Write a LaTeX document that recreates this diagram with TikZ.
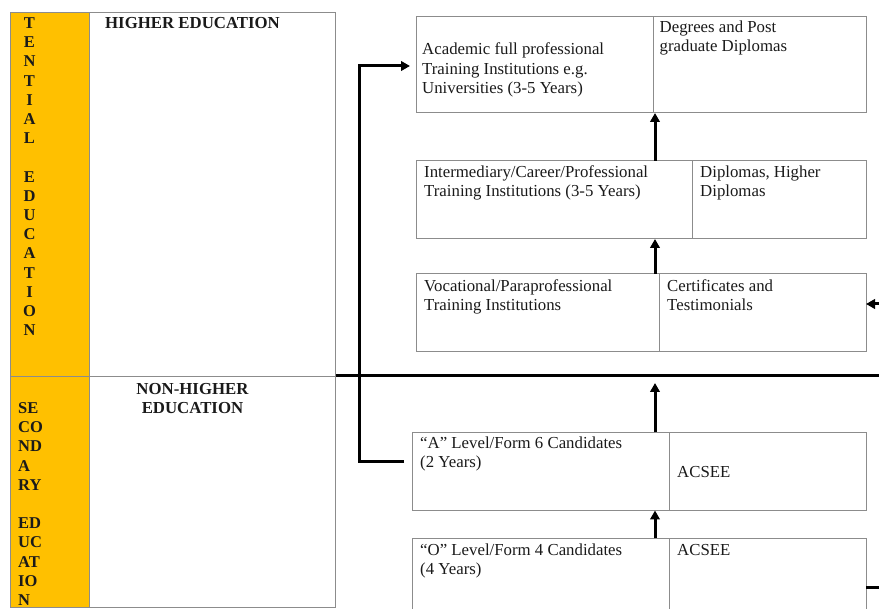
\documentclass[tikz,border=0pt]{standalone}
\usepackage{fontspec}
\setmainfont{Liberation Serif}
\usetikzlibrary{arrows.meta}
\definecolor{amber}{HTML}{FFC000}
\definecolor{rulegray}{HTML}{8C8C8C}
\definecolor{ink}{HTML}{1A1A1A}
\begin{document}
\begin{tikzpicture}[x=1pt,y=-1pt,
  cell/.style={draw=rulegray, line width=1pt, anchor=north west, inner sep=0pt, outer sep=0pt},
  txt/.style={anchor=north west, inner sep=0pt, align=left, text=ink, font=\fontsize{16.8}{19.2}\selectfont},
  arr/.style={line width=3pt, -{Triangle[length=9pt,width=9.5pt]}},
  bar/.style={line width=3pt},
  hd/.style={font=\fontsize{16.8}{19.3}\selectfont\bfseries, inner sep=0pt, align=center, anchor=north, text=ink},
  vlab/.style={font=\fontsize{16.5}{19.2}\selectfont\bfseries, inner sep=0pt, text=ink}]
\useasboundingbox (0,0) rectangle (879,609);

% left table
\node[cell, fill=amber, minimum width=79pt, minimum height=364pt] (ot) at (10,13) {};
\node[cell, minimum width=246pt, minimum height=364pt] (wt) at (89,13) {};
\node[cell, fill=amber, minimum width=79pt, minimum height=230pt] (ob) at (10,377) {};
\node[cell, minimum width=246pt, minimum height=230pt] (wb) at (89,377) {};

\node[vlab, anchor=north, align=center] (vt) at (29.5,17.4) {T\\E\\N\\T\\I\\A\\L\\[19.2pt]E\\D\\U\\C\\A\\T\\I\\O\\N};
\node[vlab, anchor=north west, align=left] (vb) at (18,402.4) {SE\\CO\\ND\\A\\RY\\[19.2pt]ED\\UC\\AT\\IO\\N};

\node[hd] (h1) at (192.5,17.2) {HIGHER EDUCATION};
\node[hd] (h2) at (192.5,382.9) {NON-HIGHER\\EDUCATION};

% right boxes
\node[cell, minimum width=237pt, minimum height=96pt] (b1l) at (416,17) {};
\node[cell, minimum width=213pt, minimum height=96pt] (b1r) at (653,17) {};
\node[cell, minimum width=276pt, minimum height=78pt] (b2l) at (416,161) {};
\node[cell, minimum width=174pt, minimum height=78pt] (b2r) at (692,161) {};
\node[cell, minimum width=243pt, minimum height=78pt] (b3l) at (416,274) {};
\node[cell, minimum width=207pt, minimum height=78pt] (b3r) at (659,274) {};
\node[cell, minimum width=257pt, minimum height=78pt] (bAl) at (412,432.5) {};
\node[cell, minimum width=197pt, minimum height=78pt] (bAr) at (669,432.5) {};
\node[cell, draw=none, minimum width=257pt, minimum height=70.5pt] (bOl) at (412,538.5) {};
\node[cell, draw=none, minimum width=197pt, minimum height=70.5pt] (bOr) at (669,538.5) {};
\draw[draw=rulegray, line width=1pt] (bOl.south west) |- (bOr.north east) -- (bOr.south east);
\draw[draw=rulegray, line width=1pt] (bOr.north west) -- (bOr.south west);

% texts
\node[txt] (t1l) at (422,42.8) {Academic full professional\\Training Institutions e.g.\\Universities (3-5 Years)};
\node[txt] (t1r) at (659.5,20.8) {Degrees and Post\\graduate Diplomas};
\node[txt] (t2l) at (424,165.2) {Intermediary/Career/Professional\\Training Institutions (3-5 Years)};
\node[txt] (t2r) at (700,165.2) {Diplomas, Higher\\Diplomas};
\node[txt] (t3l) at (424,279) {Vocational/Paraprofessional\\Training Institutions};
\node[txt] (t3r) at (667,279) {Certificates and\\Testimonials};
\node[txt] (tAl) at (420,436.8) {“A” Level/Form 6 Candidates\\(2 Years)};
\node[txt] (tAr) at (677,466.4) {ACSEE};
\node[txt] (tOl) at (420,543.5) {“O” Level/Form 4 Candidates\\(4 Years)};
\node[txt] (tOr) at (677,543.9) {ACSEE};

% connectors
\coordinate (ax) at (655,0);
\draw[arr] (ax |- b2l.north) -- (ax |- b1l.south);
\draw[arr] (ax |- b3l.north) -- (ax |- b2l.south);
\draw[arr] (ax |- bOl.north) -- (ax |- bAl.south);
\coordinate (aup) at (655,383);
\draw[arr] (ax |- bAl.north) -- (aup);

\coordinate (hl) at (336,376);
\coordinate (hr) at (879,376);
\draw[bar] (hl) -- (hr);

\coordinate (lA) at (404,462);
\coordinate (l1) at (410,66);
\draw[arr] (lA) -- ++(-45,0) |- (l1);

\coordinate (rin) at (879,304);
\draw[arr] (rin) -- (b3r.east |- rin);
\coordinate (rout) at (879,588);
\draw[bar] (bOr.east |- rout) -- (rout);
\end{tikzpicture}
\end{document}
